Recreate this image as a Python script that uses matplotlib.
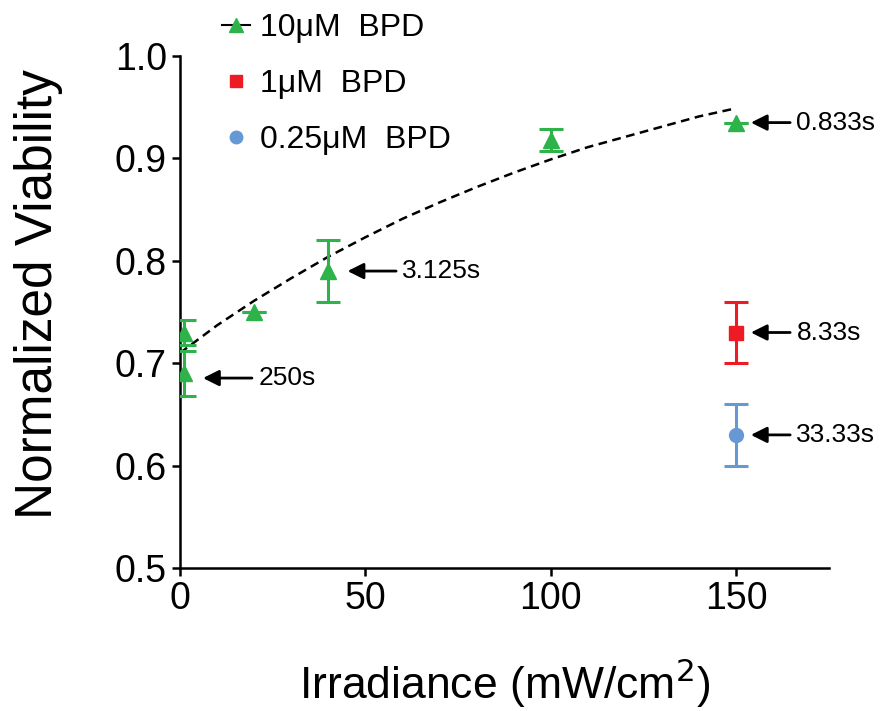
import numpy as np
import matplotlib
matplotlib.use("Agg")
import matplotlib.pyplot as plt
from matplotlib.lines import Line2D

plt.rcParams['font.family'] = ['Liberation Sans', 'DejaVu Sans']

# 10uM BPD measurements
x_10 = [1, 1, 20, 40, 100, 150]
y_10 = [0.73, 0.69, 0.75, 0.79, 0.918, 0.935]
e_10 = [0.012, 0.022, 0.0, 0.03, 0.011, 0.0]

# 1uM BPD
x_1 = [150]
y_1 = [0.73]
e_1 = [0.03]

# 0.25uM BPD
x_025 = [150]
y_025 = [0.63]
e_025 = [0.03]

# fitted curve
fit_x = [0, 10, 20, 30, 40, 50, 60, 70, 80, 90, 100, 110, 120, 130, 140, 150]
fit_y = [0.710, 0.737, 0.761, 0.783, 0.804, 0.823, 0.841, 0.857, 0.872,
         0.886, 0.899, 0.911, 0.921, 0.931, 0.941, 0.949]

# exposure time labels and the point each one marks
note_text = ["250s", "3.125s", "0.833s", "8.33s", "33.33s"]
note_x = [1, 40, 150, 150, 150]
note_y = [0.6855, 0.79, 0.935, 0.73, 0.63]
# arrow tip / tail offsets from the point (x units)
tip_off = [5.2, 5.2, 4.0, 4.0, 4.0]
tail_off = [18.4, 18.3, 14.6, 14.6, 14.6]

green = '#2DB34A'
red = '#ED1C24'
blue = '#6699D4'

fig = plt.figure(figsize=(8.85, 7.11), dpi=100)
ax = fig.add_axes([0.2034, 0.2011, 0.7330, 0.7201])

ax.plot(fit_x, fit_y, color='black', linestyle=(0, (3.5, 2.2)), linewidth=1.8, zorder=2)

ax.errorbar(x_10, y_10, yerr=e_10, fmt='^', color=green, markersize=11,
            elinewidth=2.2, capsize=8.5, capthick=2.2, zorder=3)
ax.errorbar(x_1, y_1, yerr=e_1, fmt='s', color=red, markersize=10,
            elinewidth=2.2, capsize=8.5, capthick=2.2, zorder=3)
ax.errorbar(x_025, y_025, yerr=e_025, fmt='o', color=blue, markersize=10,
            elinewidth=2.2, capsize=8.5, capthick=2.2, zorder=3)

for label, px, py, t0, t1 in zip(note_text, note_x, note_y, tip_off, tail_off):
    ax.annotate('', xy=(px + t0, py), xytext=(px + t1, py), annotation_clip=False,
                arrowprops=dict(arrowstyle='-|>', color='black', lw=2,
                                mutation_scale=24, shrinkA=0, shrinkB=0))
    ax.text(px + t1 + 1.7, py, label, fontsize=19, va='center', ha='left',
            clip_on=False)

ax.set_xlim(0, 175)
ax.set_ylim(0.5, 1.0)
ax.set_xticks([0, 50, 100, 150])
ax.set_yticks([0.5, 0.6, 0.7, 0.8, 0.9, 1.0])
ax.set_yticklabels(['0.5', '0.6', '0.7', '0.8', '0.9', '1.0'])
ax.tick_params(labelsize=27, width=1.8, length=6, direction='out')

for side in ['top', 'right']:
    ax.spines[side].set_visible(False)
for side in ['left', 'bottom']:
    ax.spines[side].set_linewidth(1.8)

ax.set_xlabel('Irradiance (mW/cm$^2$)', fontsize=32, labelpad=28)
ax.set_ylabel('Normalized Viability', fontsize=37)
ax.yaxis.set_label_coords(-0.18, 0.535)

handles = [
    Line2D([], [], color='black', lw=1.5, marker='^', markersize=10,
           markerfacecolor=green, markeredgecolor=green),
    Line2D([], [], linestyle='none', marker='s', markersize=9, color=red),
    Line2D([], [], linestyle='none', marker='o', markersize=9, color=blue),
]
fig.legend(handles, ['10\u03bcM  BPD', '1\u03bcM  BPD', '0.25\u03bcM  BPD'],
           loc='upper left', bbox_to_anchor=(0.218, 1.022), frameon=False,
           fontsize=23, handlelength=0.9, handletextpad=0.3, labelspacing=0.82)

fig.savefig('out.png', dpi=100)
